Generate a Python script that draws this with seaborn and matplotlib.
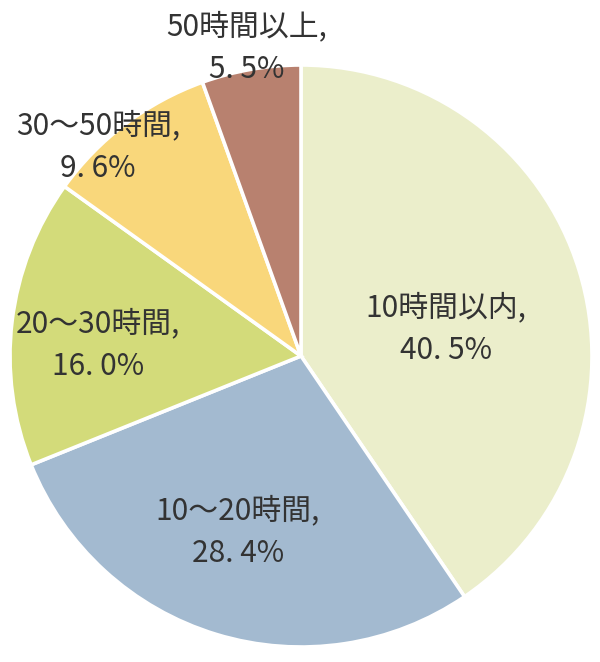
import numpy as np
import pandas as pd
import matplotlib
matplotlib.use("Agg")
import matplotlib.pyplot as plt
import seaborn as sns

# data
kategori = ["10時間以内", "10～20時間", "20～30時間", "30～50時間", "50時間以上"]
persen = [40.5, 28.4, 16.0, 9.6, 5.5]
warna = ["#EBEECB", "#A3BAD0", "#D3DB7A", "#F9D77B", "#B8816F"]
label_persen = ["40. 5%", "28. 4%", "16. 0%", "9. 6%", "5. 5%"]

sns.set_theme(style="white")
plt.rcParams["font.family"] = ["Noto Sans CJK JP", "DejaVu Sans"]

fig = plt.figure(figsize=(6, 6.62), dpi=100)
ax = fig.add_axes([0, 0, 1, 1])

df = pd.DataFrame({"kategori": kategori, "persen": persen})

wedges, _ = ax.pie(df["persen"], colors=warna, startangle=90, counterclock=False,
                   center=(301, 306), radius=291,
                   wedgeprops={"edgecolor": "white", "linewidth": 2.6})

# pie() mengatur limit sendiri, jadi set ulang setelahnya
ax.set_xlim(0, 600)
ax.set_ylim(0, 662)
ax.set_aspect("equal")
ax.axis("off")

# posisi label (pixel, y dari atas)
pos_label = [(446, 329), (238, 532), (98, 345), (98, 147), (247, 48)]
for k, p, (x, y) in zip(kategori, label_persen, pos_label):
    ax.text(x, 662 - y, f"{k},\n{p}", ha="center", va="center",
            fontsize=21.5, color="#333333", linespacing=1.5)

fig.savefig("out.png", dpi=100)
